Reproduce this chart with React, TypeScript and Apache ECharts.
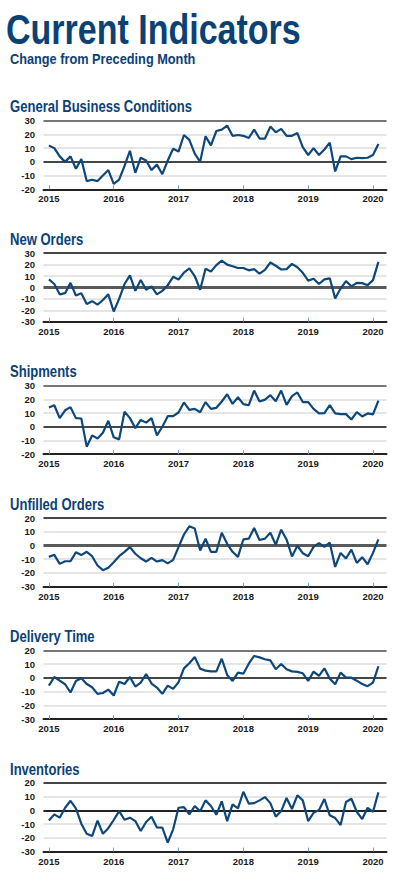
import React, { useEffect, useRef } from "react";
import * as echarts from "echarts";

const yearLabels = ["2015", "2016", "2017", "2018", "2019", "2020"];
const yearTickMonths = [0, 12, 24, 36, 48, 60];

const panelTitles = [
  "General Business Conditions",
  "New Orders",
  "Shipments",
  "Unfilled Orders",
  "Delivery Time",
  "Inventories",
];

const yMins = [-20, -30, -20, -30, -30, -30];
const yMaxs = [30, 30, 30, 20, 20, 20];

const generalBusiness = [
  12, 10, 4, 0, 4, -5, 2, -14, -13, -14, -10, -6,
  -16, -13, -3, 8, -8, 3, 1, -6, -2, -9, 1, 9.5,
  7.5, 19.6, 16, 6, 0, 18.6, 12, 22.5, 23.5, 26.4, 19, 19.6,
  19, 17.4, 23.5, 17, 17, 25.7, 21.5, 24, 19, 19, 21, 10.7,
  5, 10, 5, 9, 14, -7, 4, 4, 2, 3, 2.7, 3,
  5, 13,
];

const newOrders = [
  7, 3, -6, -5, 4, -7, -5, -14.5, -12, -15, -11, -6,
  -21, -10, 3, 10.5, -3, 6.5, -2, 1, -6, -3, 2, 9.3,
  7, 13, 16.6, 10, -2, 16.3, 14, 19.5, 23.5, 20, 18.6, 17,
  17, 15, 16, 12, 15.4, 21.8, 19, 15.7, 16, 20.6, 17.7, 12.8,
  6, 7.6, 3, 7, 8, -9.6, -1, 5.5, 1, 4, 3.8, 2,
  6.4, 22.4,
];

const shipments = [
  14, 15.7, 6.3, 12, 14.3, 6.3, 6, -14.5, -6.3, -8.5, -4.4, 4.4,
  -7.7, -9.2, 11, 6.3, -1, 5, 3, 6.3, -6.3, 0, 7.7, 7.7,
  10.4, 17.7, 12.3, 13, 10.6, 18, 13, 13.8, 18.4, 23.7, 16.7, 21.5,
  16.5, 15.7, 26.4, 18.4, 19.8, 23, 18.6, 26.4, 16, 22.3, 25, 18,
  18, 13, 9.7, 10, 15.7, 9.7, 9.2, 9.2, 5.3, 10.6, 7.5, 9.7,
  9, 19,
];

const unfilledOrders = [
  -8.3, -6.8, -13.4, -11.5, -11.5, -5, -7, -4.6, -7.8, -14.6, -18, -16.3,
  -12.2, -7.8, -4.6, -1.2, -6, -9.3, -11.7, -9, -11.7, -10.7, -13, -10.5,
  -1.2, 8, 14, 12.4, -3.7, 4.9, -4.6, -4.6, 9.3, 1.2, -4.6, -8.3,
  4.4, 5, 12.7, 4, 5, 9.3, 0.5, 11.5, 4.4, -8, -0.2, -5.6,
  -7.8, -1, 1.7, -1, 2, -15.6, -5.4, -9.5, -3, -12.7, -8.5, -13.7,
  -5.4, 4.4,
];

const deliveryTime = [
  -5.6, 0.7, -2, -4.6, -10.6, -2.2, -0.2, -4.4, -6.8, -11.6, -11, -8.5,
  -12.8, -2.7, -4.4, 0.7, -6.3, -3.4, 2.9, -4.1, -7, -11.6, -5.6, -8,
  -3.1, 7, 10.7, 15.3, 6.8, 5.3, 4.8, 4.8, 14, 2.2, -2.2, 3.9,
  3.1, 10.4, 16, 15, 13.6, 12.8, 6.3, 10.2, 6.3, 4.8, 4.4, 3.4,
  -2.2, 4.6, 1.5, 7, -0.5, -4.6, 3.9, 0.2, 0.2, -2, -4.4, -6,
  -3.4, 8.5,
];

const inventories = [
  -7.3, -2.9, -5.3, 1.9, 7, 1.5, -9.7, -17, -18.7, -7.5, -17, -13,
  -7, -0.5, -6.8, -5.3, -7.8, -15, -8.5, -4.6, -12.4, -12.6, -23.5, -13.8,
  1.9, 2.4, -2.9, 3.2, -0.7, 7.3, 3.2, -3.2, 6.6, -7.8, 4.4, 1.5,
  13.6, 4.9, 5.3, 7.3, 9.7, 5.3, -4.6, -0.5, 9, 1, 11, 7.3,
  -7.8, -1.7, 0.2, 8.3, -3.6, -5.6, -10.7, 6.1, 8.5, -1, -6.3, 1.9,
  -1, 13.1,
];

const seriesValues = [
  generalBusiness,
  newOrders,
  shipments,
  unfilledOrders,
  deliveryTime,
  inventories,
];

const FONT = "'Liberation Sans', Arial, sans-serif";
const NAVY = "#0b4275";
const LINE = "#0f4878";

export default function App() {
  const ref = useRef<HTMLDivElement>(null);

  useEffect(() => {
    if (!ref.current) return;
    const chart = echarts.init(ref.current, null, { renderer: "svg" });

    const firstTop = 120.7;
    const step = 132.45;
    const gridH = 68.6;

    const grids = panelTitles.map((_, k) => ({
      left: 43.5,
      right: 12.5,
      top: firstTop + k * step,
      height: gridH,
    }));

    const xAxes = panelTitles.map((_, k) => ({
      type: "value",
      gridIndex: k,
      min: -1,
      max: 62.5,
      splitLine: { show: false },
      axisLine: { show: true, onZero: false, lineStyle: { color: "#222", width: 2 } },
      axisTick: {
        show: true,
        inside: true,
        length: 4,
        customValues: yearTickMonths,
        lineStyle: { color: "#6fa3d6", width: 1 },
      },
      axisLabel: {
        show: true,
        customValues: yearTickMonths,
        margin: 4.5,
        fontFamily: FONT,
        fontWeight: "bold",
        fontSize: 9.5,
        lineHeight: 10,
        color: "#1a1a1a",
        formatter: (v: number) => yearLabels[Math.round(v / 12)] ?? "",
      },
    }));

    const yAxes = panelTitles.map((_, k) => ({
      type: "value",
      gridIndex: k,
      min: yMins[k],
      max: yMaxs[k],
      interval: 10,
      axisLine: { show: false },
      axisTick: { show: false },
      axisLabel: {
        margin: 8.5,
        fontFamily: FONT,
        fontWeight: "bold",
        fontSize: 9.5,
        lineHeight: 10,
        color: "#1a1a1a",
      },
      splitLine: { show: true, lineStyle: { color: "#dcdcdc", width: 1.6 } },
    }));

    const greyTop = [true, false, true, false, true, false];

    const series: any[] = [];
    panelTitles.forEach((_, k) => {
      const data = seriesValues[k].map((v, i) => [i, v]);
      const topStyle = greyTop[k]
        ? { color: "#777", width: 2.2, type: "solid" }
        : { color: "#111", width: 1.5, type: "solid" };
      const zeroStyle = greyTop[k]
        ? { color: "#111", width: 1.5, type: "solid" }
        : k === 5
        ? { color: "#222", width: 2, type: "solid" }
        : { color: "#5a5a5a", width: 3, type: "solid" };
      series.push({
        type: "line",
        xAxisIndex: k,
        yAxisIndex: k,
        data,
        symbol: "none",
        z: 3,
        lineStyle: { color: LINE, width: 2.2 },
        markLine: {
          silent: true,
          z: 1,
          symbol: ["none", "none"],
          label: { show: false },
          data: [
            { yAxis: 0, lineStyle: zeroStyle },
            { yAxis: yMaxs[k], lineStyle: topStyle },
          ],
        },
      });
    });

    const graphic: any[] = [
      {
        type: "text",
        x: 6,
        y: 29.5,
        scaleX: 0.81,
        style: {
          text: "Current Indicators",
          fontFamily: FONT,
          fontWeight: "bold",
          fontSize: 42,
          lineHeight: 34,
          fill: NAVY,
          verticalAlign: "middle",
        },
      },
      {
        type: "text",
        x: 10,
        y: 59,
        scaleX: 0.85,
        style: {
          text: "Change from Preceding Month",
          fontFamily: FONT,
          fontWeight: "bold",
          fontSize: 15,
          lineHeight: 13,
          fill: NAVY,
          verticalAlign: "middle",
        },
      },
    ];
    panelTitles.forEach((t, k) => {
      graphic.push({
        type: "text",
        x: 10,
        y: firstTop + k * step - 13.7,
        scaleX: 0.816,
        style: {
          text: t,
          fontFamily: FONT,
          fontWeight: "bold",
          fontSize: 16,
          lineHeight: 14,
          fill: NAVY,
          verticalAlign: "middle",
        },
      });
    });

    chart.setOption({
      animation: false,
      backgroundColor: "#ffffff",
      grid: grids,
      xAxis: xAxes,
      yAxis: yAxes,
      series,
      graphic,
    });

    return () => chart.dispose();
  }, []);

  return (
    <div
      ref={ref}
      style={{ position: "absolute", left: 0, top: 0, width: 399, height: 884 }}
    />
  );
}
